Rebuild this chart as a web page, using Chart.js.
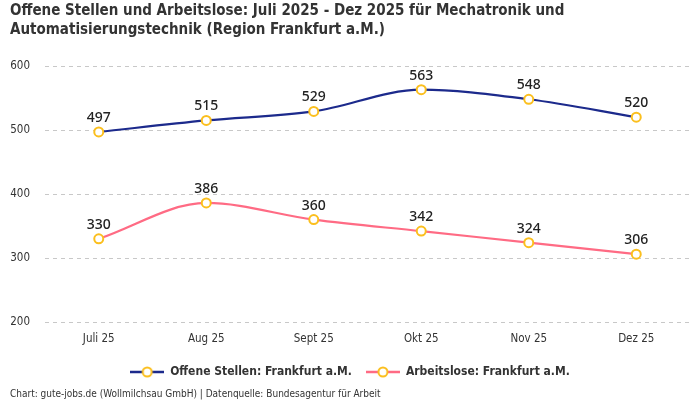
<!DOCTYPE html>
<html>
<head>
<meta charset="utf-8">
<script src="https://cdn.jsdelivr.net/npm/chart.js@4"></script>
<style>
  html, body { margin: 0; padding: 0; background: #fff; }
  #wrap { width: 700px; height: 400px; position: relative; }
</style>
</head>
<body>
<div id="wrap"><canvas id="myChart"></canvas></div>
<script>
const months = ['Juli 25', 'Aug 25', 'Sept 25', 'Okt 25', 'Nov 25', 'Dez 25'];
const offeneStellen = [497, 515, 529, 563, 548, 520];
const arbeitslose = [330, 386, 360, 342, 324, 306];
const yTicks = [200, 300, 400, 500, 600];

const blue = '#1c2a8c';
const pink = '#ff6b84';
const yellow = '#fbbf1e';
const condensed = "'Liberation Sans Narrow', 'DejaVu Sans Condensed', 'Roboto', sans-serif";

// legend marker: short line with a ring in the middle
function legendIcon(color) {
  const c = document.createElement('canvas');
  c.width = 34; c.height = 14;
  const g = c.getContext('2d');
  g.strokeStyle = color; g.lineWidth = 2.5;
  g.beginPath(); g.moveTo(0, 7); g.lineTo(34, 7); g.stroke();
  g.fillStyle = '#fff'; g.strokeStyle = yellow; g.lineWidth = 2;
  g.beginPath(); g.arc(17, 7, 4.5, 0, Math.PI * 2); g.fill(); g.stroke();
  return c;
}

// value labels above points
const valueLabels = {
  id: 'valueLabels',
  afterDatasetsDraw(chart) {
    const g = chart.ctx;
    g.save();
    g.font = "500 14px 'Noto Sans', sans-serif";
    g.fillStyle = '#222';
    g.textAlign = 'center';
    g.textBaseline = 'bottom';
    chart.data.datasets.forEach((ds, i) => {
      chart.getDatasetMeta(i).data.forEach((pt, j) => {
        g.fillText(ds.data[j], pt.x, pt.y - 7);
      });
    });
    g.restore();
  }
};

const ctx = document.getElementById('myChart');
new Chart(ctx, {
  type: 'line',
  data: {
    labels: months,
    datasets: [{
      label: 'Offene Stellen: Frankfurt a.M.',
      data: offeneStellen,
      borderColor: blue,
      backgroundColor: blue,
      borderWidth: 2.2,
      cubicInterpolationMode: 'monotone',
      pointRadius: 4.5,
      pointBorderWidth: 2,
      pointBackgroundColor: '#fff',
      pointBorderColor: yellow
    }, {
      label: 'Arbeitslose: Frankfurt a.M.',
      data: arbeitslose,
      borderColor: pink,
      backgroundColor: pink,
      borderWidth: 2.2,
      cubicInterpolationMode: 'monotone',
      pointRadius: 4.5,
      pointBorderWidth: 2,
      pointBackgroundColor: '#fff',
      pointBorderColor: yellow
    }]
  },
  options: {
    responsive: true,
    maintainAspectRatio: false,
    animation: false,
    layout: { padding: { left: 10, right: 10, top: 0, bottom: 0 } },
    plugins: {
      title: {
        display: true,
        text: ['Offene Stellen und Arbeitslose: Juli 2025 - Dez 2025 für Mechatronik und',
               'Automatisierungstechnik (Region Frankfurt a.M.)'],
        align: 'start',
        color: '#333',
        font: { family: condensed, size: 15, weight: 'bold', lineHeight: 1.3 },
        padding: { top: 1, bottom: 26 }
      },
      subtitle: {
        display: true,
        position: 'bottom',
        align: 'start',
        text: 'Chart: gute-jobs.de (Wollmilchsau GmbH) | Datenquelle: Bundesagentur für Arbeit',
        color: '#333',
        font: { family: condensed, size: 10 },
        padding: { top: 0, bottom: 0 }
      },
      legend: {
        position: 'bottom',
        labels: {
          color: '#333',
          font: { family: condensed, size: 12, weight: 'bold' },
          usePointStyle: true,
          pointStyleWidth: 34,
          boxHeight: 14,
          padding: 14,
          generateLabels(chart) {
            return chart.data.datasets.map((ds, i) => ({
              text: ds.label,
              pointStyle: legendIcon(ds.borderColor),
              fontColor: '#333',
              datasetIndex: i,
              hidden: false,
              lineWidth: 0
            }));
          }
        }
      },
      tooltip: { enabled: false }
    },
    scales: {
      x: {
        offset: true,
        grid: { display: false },
        border: { display: false },
        ticks: { color: '#333', font: { family: condensed, size: 11.5 }, padding: 2 },
        afterFit(axis) { axis.height = 30; }
      },
      y: {
        min: 200,
        max: 600,
        afterBuildTicks(axis) { axis.ticks = yTicks.map(v => ({ value: v })); },
        afterFit(axis) { axis.width = 35; },
        grid: { color: '#c8c8c8', drawTicks: false },
        border: { display: false, dash: [4, 4] },
        ticks: { color: '#333', font: { family: condensed, size: 11.5 }, padding: 15 }
      }
    }
  },
  plugins: [valueLabels]
});
</script>
</body>
</html>
